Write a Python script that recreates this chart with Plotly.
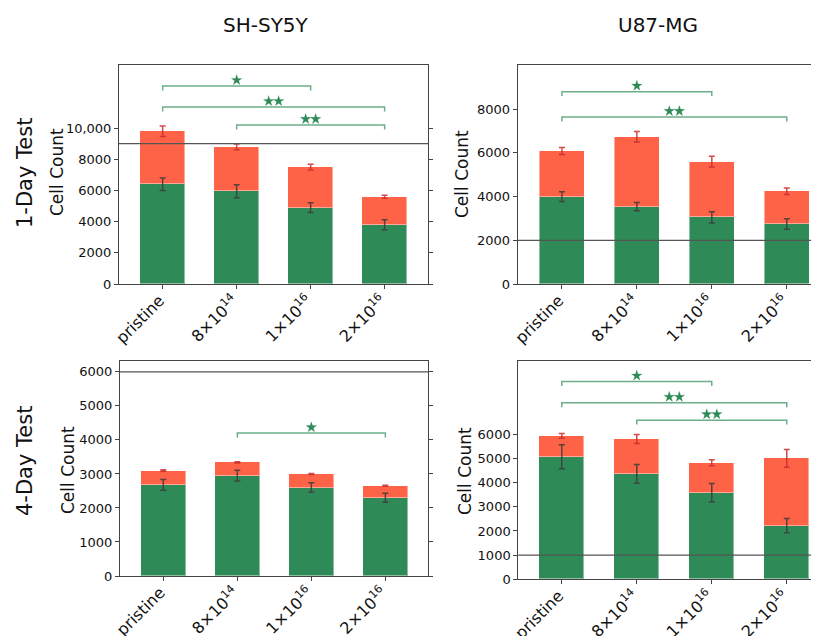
import plotly.graph_objects as go

# ---------------- data ----------------
categories = ['pristine', '8×10<sup>14</sup>', '1×10<sup>16</sup>', '2×10<sup>16</sup>']
col_titles = ['SH-SY5Y', 'U87-MG']
row_titles = ['1-Day Test', '4-Day Test']
y_title = 'Cell Count'

# 1-Day, SH-SY5Y
live_1d_sh = [6400, 5950, 4900, 3800]
dead_1d_sh = [3400, 2850, 2600, 1800]
live_err_1d_sh = [400, 420, 320, 320]
total_err_1d_sh = [330, 180, 180, 100]
sig_1d_sh = [(0, 2, '*', 12700), (0, 3, '**', 11350), (1, 3, '**', 10200)]

# 1-Day, U87-MG
live_1d_u87 = [4000, 3540, 3050, 2750]
dead_1d_u87 = [2080, 3200, 2550, 1490]
live_err_1d_u87 = [220, 190, 260, 240]
total_err_1d_u87 = [160, 240, 250, 150]
sig_1d_u87 = [(0, 2, '*', 8800), (0, 3, '**', 7640)]

# 4-Day, SH-SY5Y
live_4d_sh = [2680, 2950, 2600, 2300]
dead_4d_sh = [420, 390, 400, 350]
live_err_4d_sh = [160, 160, 140, 130]
total_err_4d_sh = [20, 20, 15, 15]
sig_4d_sh = [(1, 3, '*', 4200)]

# 4-Day, U87-MG
live_4d_u87 = [5070, 4360, 3580, 2220]
dead_4d_u87 = [860, 1440, 1240, 2780]
live_err_4d_u87 = [500, 390, 380, 295]
total_err_4d_u87 = [100, 185, 125, 370]
sig_4d_u87 = [(0, 2, '*', 8180), (0, 3, '**', 7300), (1, 3, '**', 6580)]

ref_lines = [9000, 2000, 6000, 1000]
y_ranges = [[0, 14050], [0, 10020], [0, 6320], [0, 9030]]
y_tickvals = [[0, 2000, 4000, 6000, 8000, 10000],
              [0, 2000, 4000, 6000, 8000],
              [0, 1000, 2000, 3000, 4000, 5000, 6000],
              [0, 1000, 2000, 3000, 4000, 5000, 6000]]
y_ticktext = [['0', '2000', '4000', '6000', '8000', '10,000'],
              ['0', '2000', '4000', '6000', '8000'],
              ['0', '1000', '2000', '3000', '4000', '5000', '6000'],
              ['0', '1000', '2000', '3000', '4000', '5000', '6000']]

panels = [
    (live_1d_sh, dead_1d_sh, live_err_1d_sh, total_err_1d_sh, sig_1d_sh),
    (live_1d_u87, dead_1d_u87, live_err_1d_u87, total_err_1d_u87, sig_1d_u87),
    (live_4d_sh, dead_4d_sh, live_err_4d_sh, total_err_4d_sh, sig_4d_sh),
    (live_4d_u87, dead_4d_u87, live_err_4d_u87, total_err_4d_u87, sig_4d_u87),
]

# ---------------- layout geometry ----------------
# page is rendered with an 8px body margin: figure pixel = page pixel - OFF
OFF = 8
PAGE_W, PAGE_H = 819, 636
W, H = PAGE_W - OFF, PAGE_H - OFF


def px(v):
    return (v - OFF) / W


def py(v):
    return 1 - (v - OFF) / H


boxes = [(119, 428.3, 65, 284), (517.7, 819, 65, 284),
         (120, 428.3, 361, 576), (518.3, 819, 361, 579.3)]
x_ranges = [[-0.59, 3.59], [-0.59, 3.43], [-0.585, 3.58], [-0.58, 3.43]]

GREEN = '#2E8B57'
RED = '#FF6347'
FONT = 'DejaVu Sans'

fig = go.Figure()
xpos = list(range(len(categories)))

for i, (live, dead, lerr, terr, sigs) in enumerate(panels):
    sfx = '' if i == 0 else str(i + 1)
    xa, ya = 'x' + sfx, 'y' + sfx
    totals = [a + b for a, b in zip(live, dead)]
    fig.add_trace(go.Bar(x=xpos, y=live, width=0.6, marker_color=GREEN,
                         marker_line=dict(color='rgba(255,255,255,0.45)', width=1),
                         xaxis=xa, yaxis=ya, showlegend=False))
    fig.add_trace(go.Bar(x=xpos, y=dead, width=0.6, marker_color=RED,
                         marker_line=dict(color='rgba(255,255,255,0.45)', width=1),
                         xaxis=xa, yaxis=ya, showlegend=False))
    fig.add_trace(go.Scatter(x=xpos, y=live, mode='markers', marker=dict(opacity=0),
                             error_y=dict(type='data', array=lerr, color='rgba(60,60,60,0.85)',
                                          thickness=1.5, width=3),
                             xaxis=xa, yaxis=ya, showlegend=False, hoverinfo='skip'))
    fig.add_trace(go.Scatter(x=xpos, y=totals, mode='markers', marker=dict(opacity=0),
                             error_y=dict(type='data', array=terr, color='rgba(200,45,45,0.85)',
                                          thickness=1.5, width=3),
                             xaxis=xa, yaxis=ya, showlegend=False, hoverinfo='skip'))
    yr = y_ranges[i][1] - y_ranges[i][0]
    d = 0.02 * yr
    off = 0.027 * yr
    for (a, b, lab, h) in sigs:
        fig.add_trace(go.Scatter(x=[a, a, b, b], y=[h - d, h, h, h - d], mode='lines',
                                 line=dict(color='rgba(46,139,87,0.7)', width=1.5),
                                 xaxis=xa, yaxis=ya, showlegend=False, hoverinfo='skip'))
        mid = (a + b) / 2
        n = len(lab)
        sx = [mid + (k - (n - 1) / 2) * 0.135 for k in range(n)]
        fig.add_trace(go.Scatter(x=sx, y=[h + off] * n, mode='markers',
                                 marker=dict(symbol='star', size=8, color=GREEN,
                                             line=dict(color='rgba(46,139,87,0.4)', width=0.5)),
                                 xaxis=xa, yaxis=ya, showlegend=False, hoverinfo='skip'))

    x0, x1, y0, y1 = boxes[i]
    right_edge = x1 >= PAGE_W - 0.5
    fig.update_layout(**{
        'xaxis' + sfx: dict(domain=[px(x0), min(px(x1), 1)], range=x_ranges[i],
                            tickvals=xpos, ticktext=categories, tickangle=-45,
                            ticks='outside', ticklen=4, tickcolor='#444',
                            ticklabelstandoff=-4, ticklabelshift=-3,
                            showline=True, linecolor='#444', linewidth=1, mirror=True,
                            showgrid=False, zeroline=False, anchor=ya,
                            tickfont=dict(family=FONT, size=16, color='#111'),
                            automargin=False, fixedrange=True),
        'yaxis' + sfx: dict(domain=[py(y1), py(y0)], range=y_ranges[i],
                            tickvals=y_tickvals[i], ticktext=y_ticktext[i],
                            ticks='outside', ticklen=4, tickcolor='#444',
                            showline=True, linecolor='#444', linewidth=1,
                            mirror=(False if right_edge else 'ticks'),
                            showgrid=False, zeroline=False, anchor=xa,
                            tickfont=dict(family=FONT, size=13, color='#111'),
                            automargin=False, fixedrange=True),
    })
    fig.add_shape(type='line', xref=xa + ' domain', yref=ya, x0=0, x1=1,
                  y0=ref_lines[i], y1=ref_lines[i],
                  line=dict(color='#555', width=1.3), layer='above')

# ---------------- text ----------------
ann = []
for txt, cx in zip(col_titles, [266, 658]):
    ann.append(dict(text=txt, x=px(cx), y=py(25), xref='paper', yref='paper',
                    showarrow=False, xanchor='center', yanchor='middle',
                    font=dict(family=FONT, size=20, color='#111')))
for txt, cy in zip(row_titles, [173, 461]):
    ann.append(dict(text=txt, x=px(25), y=py(cy), xref='paper', yref='paper',
                    showarrow=False, xanchor='center', yanchor='middle', textangle=-90,
                    font=dict(family=FONT, size=21, color='#111')))
for cx, cy in [(57, 172), (462, 174), (68, 470), (465, 471)]:
    ann.append(dict(text=y_title, x=px(cx), y=py(cy), xref='paper', yref='paper',
                    showarrow=False, xanchor='center', yanchor='middle', textangle=-90,
                    font=dict(family=FONT, size=17, color='#111')))

fig.update_layout(width=W, height=H, margin=dict(l=0, r=0, t=0, b=0),
                  barmode='stack', bargap=0, plot_bgcolor='white', paper_bgcolor='white',
                  showlegend=False, annotations=ann, font=dict(family=FONT))

fig.write_html('out.html')
